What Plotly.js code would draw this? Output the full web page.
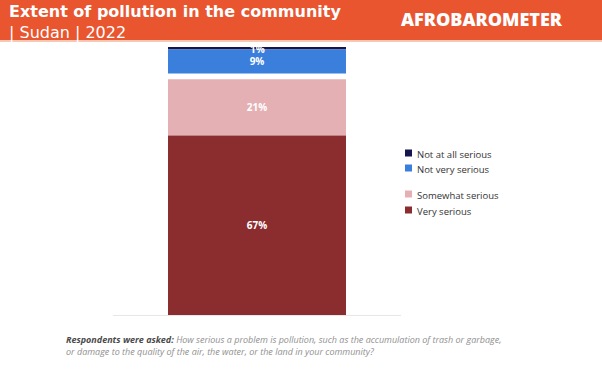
<!DOCTYPE html>
<html>
<head>
<meta charset="utf-8">
<script src="https://cdn.plot.ly/plotly-3.0.1.min.js"></script>
<style>html,body{margin:0;padding:0;background:#fff;}#chart{width:602px;height:371px;}</style>
</head>
<body>
<div id="chart"></div>
<script>
// ---- data ----
const category = ["Sudan"];
const seriesNames = ["Not at all serious", "Not very serious", "Somewhat serious", "Very serious"];
const notAtAllSerious = [1];
const notVerySerious = [9];
const somewhatSerious = [21];
const verySerious = [67];
const colors = ["#16164f", "#3b7fdd", "#e5b0b4", "#8b2d2f"];

// ---- layout constants ----
const GAP = 2.1; // visual gap between the two response groups
const values = [notAtAllSerious, notVerySerious, somewhatSerious, verySerious];

const baseVery = verySerious.map(() => 0);
const baseSomewhat = verySerious.map(v => v);
const baseNotVery = verySerious.map((v, i) => v + somewhatSerious[i] + GAP);
const baseNotAtAll = baseNotVery.map((b, i) => b + notVerySerious[i]);
const bases = [baseNotAtAll, baseNotVery, baseSomewhat, baseVery];

const labelFont = { family: "Open Sans", size: 10, color: "#ffffff", weight: 700 };

const traces = values.map((vals, k) => ({
  type: "bar",
  name: seriesNames[k],
  x: category,
  y: vals,
  base: bases[k],
  showlegend: false,
  marker: { color: colors[k] },
  text: vals.map(v => v + "%"),
  textposition: k === 0 ? "none" : "inside",
  insidetextanchor: "middle",
  textangle: 0,
  constraintext: "none",
  textfont: labelFont,
  hovertemplate: "%{fullData.name}: %{y}%<extra></extra>"
}));

// the thin top segment is too small to hold its label: place it at the segment's lower edge
const smallLabels = notAtAllSerious.map((v, i) => ({
  x: category[i], y: baseNotAtAll[i], xref: "x", yref: "y",
  text: v + "%", showarrow: false, xanchor: "center", yanchor: "middle",
  font: labelFont
}));

const H = 268, W = 288;
const px2y = py => (315 - py) / H;
const px2x = px => (px - 113) / W;

// custom legend (vertical positions in px)
const legendY = [153, 168, 194, 210];
const legendShapes = seriesNames.map((n, k) => ({
  type: "rect", xref: "paper", yref: "paper",
  x0: px2x(405), x1: px2x(412), y0: px2y(legendY[k] + 3.5), y1: px2y(legendY[k] - 3.5),
  fillcolor: colors[k], line: { width: 0 }
}));
const legendLabels = seriesNames.map((n, k) => ({
  xref: "paper", yref: "paper", x: px2x(415), y: px2y(legendY[k] + 1.5),
  xanchor: "left", yanchor: "middle", showarrow: false, text: n,
  font: { family: "Open Sans", size: 9.5, color: "#333333" }
}));

const layout = {
  width: 602, height: 371,
  margin: { l: 113, r: 201, t: 47, b: 56 },
  paper_bgcolor: "#ffffff",
  plot_bgcolor: "#ffffff",
  barmode: "overlay",
  bargap: 0.382,
  showlegend: false,
  xaxis: { visible: true, showticklabels: false, showgrid: false, zeroline: false,
           showline: true, linecolor: "#e6e6e6", linewidth: 1, ticks: "" },
  yaxis: { range: [0, 100], visible: false, fixedrange: true },
  shapes: [
    { type: "rect", xref: "paper", yref: "paper",
      x0: px2x(0), x1: px2x(602), y0: px2y(40), y1: px2y(0),
      fillcolor: "#e8552f", line: { width: 0 }, layer: "above" },
    { type: "rect", xref: "paper", yref: "paper",
      x0: px2x(0), x1: px2x(602), y0: px2y(42), y1: px2y(40),
      fillcolor: "#f8c8b4", line: { width: 0 }, layer: "above" }
  ].concat(legendShapes),
  annotations: [
    { xref: "paper", yref: "paper", x: px2x(7), y: px2y(22), xanchor: "left", yanchor: "middle",
      align: "left", showarrow: false,
      text: "<b>Extent of pollution in the community</b><br>| Sudan | 2022",
      font: { family: "DejaVu Sans", size: 16, color: "#ffffff" } },
    { xref: "paper", yref: "paper", x: px2x(399), y: px2y(18.5), xanchor: "left", yanchor: "middle",
      text: "AFROBAROMETER", showarrow: false,
      font: { family: "Open Sans", size: 18, color: "#ffffff", weight: 800 } },
    { xref: "paper", yref: "paper", x: px2x(64), y: px2y(345), xanchor: "left", yanchor: "middle",
      align: "left", showarrow: false,
      text: "<b><i>Respondents were asked:</i></b><i><span style='color:#8f8f8f'> How serious a problem is pollution, such as the accumulation of trash or garbage,</span></i><br><i><span style='color:#8f8f8f'>or damage to the quality of the air, the water, or the land in your community?</span></i>",
      font: { family: "Open Sans", size: 9, color: "#4a4a4a" } }
  ].concat(legendLabels, smallLabels)
};

Plotly.newPlot("chart", traces, layout, { displayModeBar: false, staticPlot: true });
</script>
</body>
</html>
